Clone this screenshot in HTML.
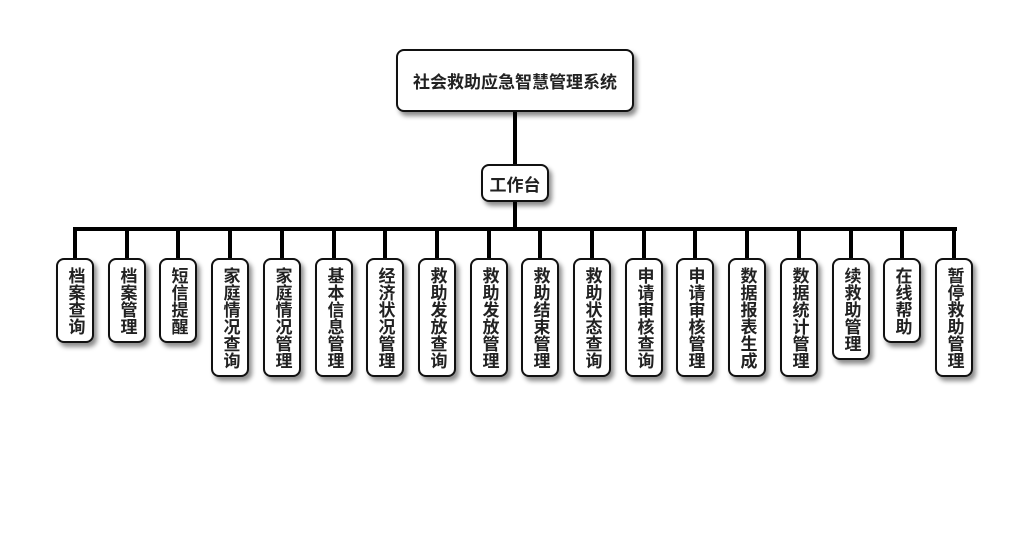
<!DOCTYPE html>
<html><head><meta charset="utf-8"><style>
body{margin:0;width:1030px;height:560px;background:#fff;position:relative;overflow:hidden;font-family:"Liberation Sans","Noto Sans CJK SC",sans-serif;font-weight:bold;color:#222}
.b{position:absolute;box-sizing:border-box;border:2px solid #111;border-radius:8px;background:#fff;box-shadow:3px 4px 5px rgba(0,0,0,.45);display:flex;align-items:center;justify-content:center}
.l{position:absolute;background:#000}
.v{width:38px;top:258px;font-size:17px;line-height:17px;writing-mode:vertical-rl;text-orientation:upright;letter-spacing:0}
</style></head><body>
<div class="l" style="left:513px;top:112px;width:4px;height:52px"></div>
<div class="l" style="left:513px;top:202px;width:4px;height:27px"></div>
<div class="l" style="left:73px;top:227px;width:884px;height:4px"></div>
<div class="b" style="left:396px;top:49px;width:238px;height:63px;font-size:17px">社会救助应急智慧管理系统</div>
<div class="b" style="left:481px;top:164px;width:68px;height:38px;font-size:17px">工作台</div>
<div id="c"></div>
<script>
var t=["档案查询","档案管理","短信提醒","家庭情况查询","家庭情况管理","基本信息管理","经济状况管理","救助发放查询","救助发放管理","救助结束管理","救助状态查询","申请审核查询","申请审核管理","数据报表生成","数据统计管理","续救助管理","在线帮助","暂停救助管理"];
var h="";
for(var i=0;i<t.length;i++){var cx=Math.round(75+i*51.7);
h+='<div class="l" style="left:'+(cx-2)+'px;top:229px;width:4px;height:29px"></div>';
h+='<div class="b v" style="left:'+(cx-19)+'px;height:'+(17*t[i].length+17)+'px">'+t[i]+'</div>';}
document.getElementById("c").innerHTML=h;
</script>
</body></html>
